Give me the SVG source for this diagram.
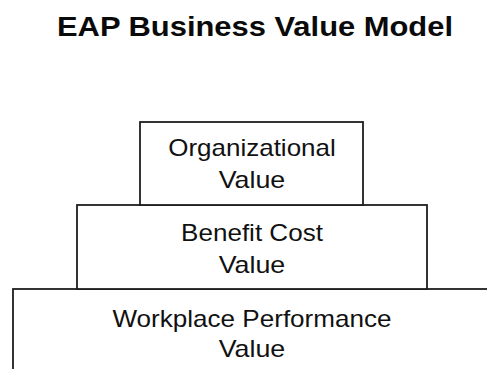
<svg xmlns="http://www.w3.org/2000/svg" width="487" height="369" viewBox="0 0 487 369">
<style>
.box{fill:#ffffff;stroke:#1e1e1e;stroke-width:1.8}
.lbl{font-family:"Liberation Sans",Arial,sans-serif;font-size:24px;fill:#111;text-anchor:middle}
.title{font-family:"Liberation Sans",Arial,sans-serif;font-size:28px;font-weight:bold;fill:#0a0a0a;text-anchor:middle}
</style>
<rect width="487" height="369" fill="#ffffff"/>
<text class="title" x="255" y="36" textLength="396" lengthAdjust="spacingAndGlyphs">EAP Business Value Model</text>
<g id="workplace">
<rect class="box" x="13" y="289" width="500" height="100"/>
<text class="lbl" x="252" y="327" textLength="279" lengthAdjust="spacingAndGlyphs">Workplace Performance</text>
<text class="lbl" x="252" y="357" textLength="66.6" lengthAdjust="spacingAndGlyphs">Value</text>
</g>
<g id="benefit">
<rect class="box" x="77" y="205" width="350" height="84"/>
<text class="lbl" x="252" y="240.5" textLength="141.8" lengthAdjust="spacingAndGlyphs">Benefit Cost</text>
<text class="lbl" x="252" y="273" textLength="66.6" lengthAdjust="spacingAndGlyphs">Value</text>
</g>
<g id="organizational">
<rect class="box" x="140" y="122" width="223" height="83"/>
<text class="lbl" x="252" y="156" textLength="167.5" lengthAdjust="spacingAndGlyphs">Organizational</text>
<text class="lbl" x="252" y="188" textLength="66.6" lengthAdjust="spacingAndGlyphs">Value</text>
</g>
<g id="connectors"/>
</svg>
